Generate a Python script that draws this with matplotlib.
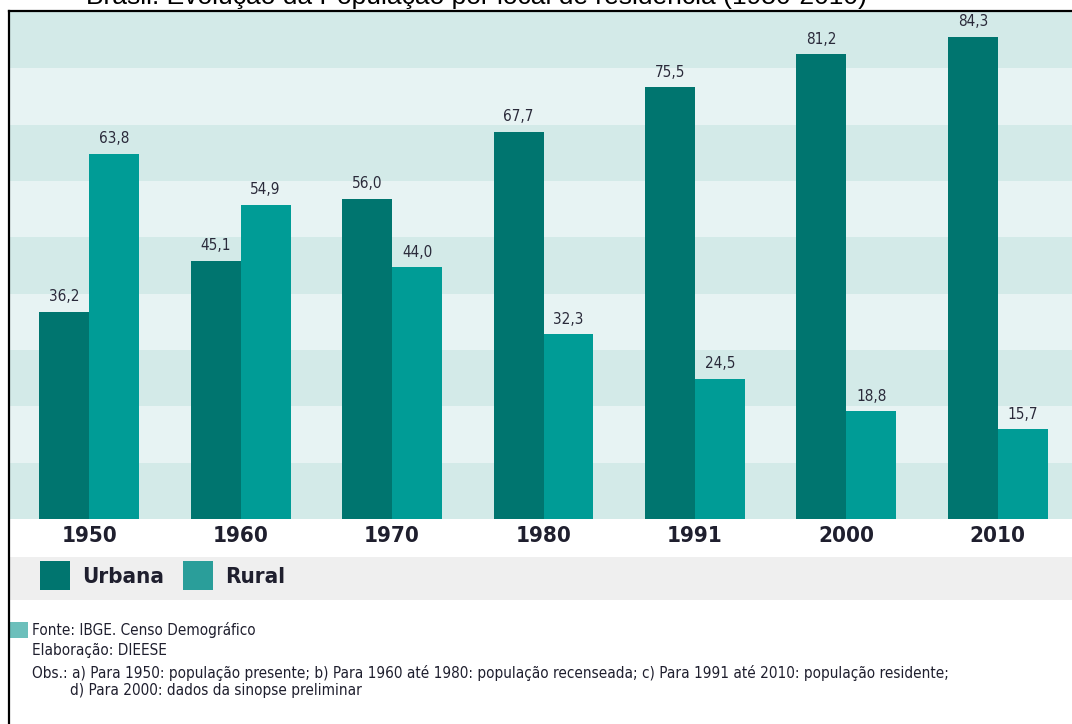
import numpy as np
import matplotlib
matplotlib.use('Agg')
from matplotlib import pyplot as plt
from matplotlib.patches import Rectangle
from matplotlib.lines import Line2D

# data
anos = ['1950', '1960', '1970', '1980', '1991', '2000', '2010']
urbana = [36.2, 45.1, 56.0, 67.7, 75.5, 81.2, 84.3]
rural = [63.8, 54.9, 44.0, 32.3, 24.5, 18.8, 15.7]
labels_legenda = ['Urbana', 'Rural']

titulo = 'Brasil: Evolução da População por local de residência (1950-2010)'
notas = ['Fonte: IBGE. Censo Demográfico',
         'Elaboração: DIEESE',
         'Obs.: a) Para 1950: população presente; b) Para 1960 até 1980: população recenseada; c) Para 1991 até 2010: população residente;',
         'd) Para 2000: dados da sinopse preliminar']

c_urb = '#00756f'
c_rur = '#009c96'
band_dark = '#d3eae8'
band_light = '#e7f3f3'
txt = '#1f1f2e'
narrow = 'DejaVu Sans'

W, H = 1072, 724
fig = plt.figure(figsize=(W/100, H/100), dpi=100)

def fx(px):
	return px/W

def fy(py):
	return 1 - py/H

ax = fig.add_axes([fx(9), fy(519), fx(1063), 507/H])
ymax = 88.6
ax.set_ylim(0, ymax)
ax.set_xlim(-0.53, 6.49)

#striped background
edges = np.linspace(0, ymax, 10)
for i in range(9):
	col = band_dark if i % 2 == 0 else band_light
	ax.axhspan(edges[i], edges[i+1], color=col, lw=0, zorder=0)

x = np.arange(len(anos))
w = 0.33
b1 = ax.bar(x - w/2, urbana, w, color=c_urb, zorder=2)
b2 = ax.bar(x + w/2, rural, w, color=c_rur, zorder=2)

for bars, vals in [(b1, urbana), (b2, rural)]:
	for b, v in zip(bars, vals):
		ax.text(b.get_x() + b.get_width()/2, v + 1.3, ('%.1f' % v).replace('.', ','),
				ha='center', va='bottom', fontsize=11, color='#2a2a3a',
				family=narrow, fontstretch='condensed')

ax.set_xticks(x)
ax.set_xticklabels(anos, family=narrow, fontweight='bold', fontstretch='condensed',
				   fontsize=16, color=txt)
ax.tick_params(axis='x', length=0, pad=5)
ax.set_yticks([])
for s in ax.spines.values():
	s.set_visible(False)

#frame lines
fig.add_artist(Line2D([fx(9), fx(9)], [0, fy(11)], color='black', lw=1.6))
fig.add_artist(Line2D([fx(9), 1], [fy(11), fy(11)], color='black', lw=1.6))

#title, cut at the top as in the source image
fig.text(fx(476), fy(4), titulo, ha='center', va='baseline', fontsize=19,
		 family='Liberation Sans', color='black')

#legend strip
fig.add_artist(Rectangle((fx(10), fy(600)), fx(1062), 43/H, color='#efefef', lw=0))
leg_x = [40, 183]
for lx, lab, col in zip(leg_x, labels_legenda, [c_urb, '#2a9e9a']):
	fig.add_artist(Rectangle((fx(lx), fy(590)), fx(30), 29/H, color=col, lw=0))
	fig.text(fx(lx + 42), fy(577), lab, ha='left', va='center', family=narrow,
			 fontweight='bold', fontstretch='condensed', fontsize=16, color=txt)

#footer
fig.add_artist(Rectangle((fx(10), fy(638)), fx(18), 16/H, color='#6cbfbb', lw=0))
ys = [630, 650, 673, 691]
xs = [32, 32, 32, 70]
for t, yy, xx in zip(notas, ys, xs):
	fig.text(fx(xx), fy(yy), t, ha='left', va='center', family=narrow,
			 fontstretch='condensed', fontsize=11, color=txt)

fig.savefig('out.png', dpi=100)
